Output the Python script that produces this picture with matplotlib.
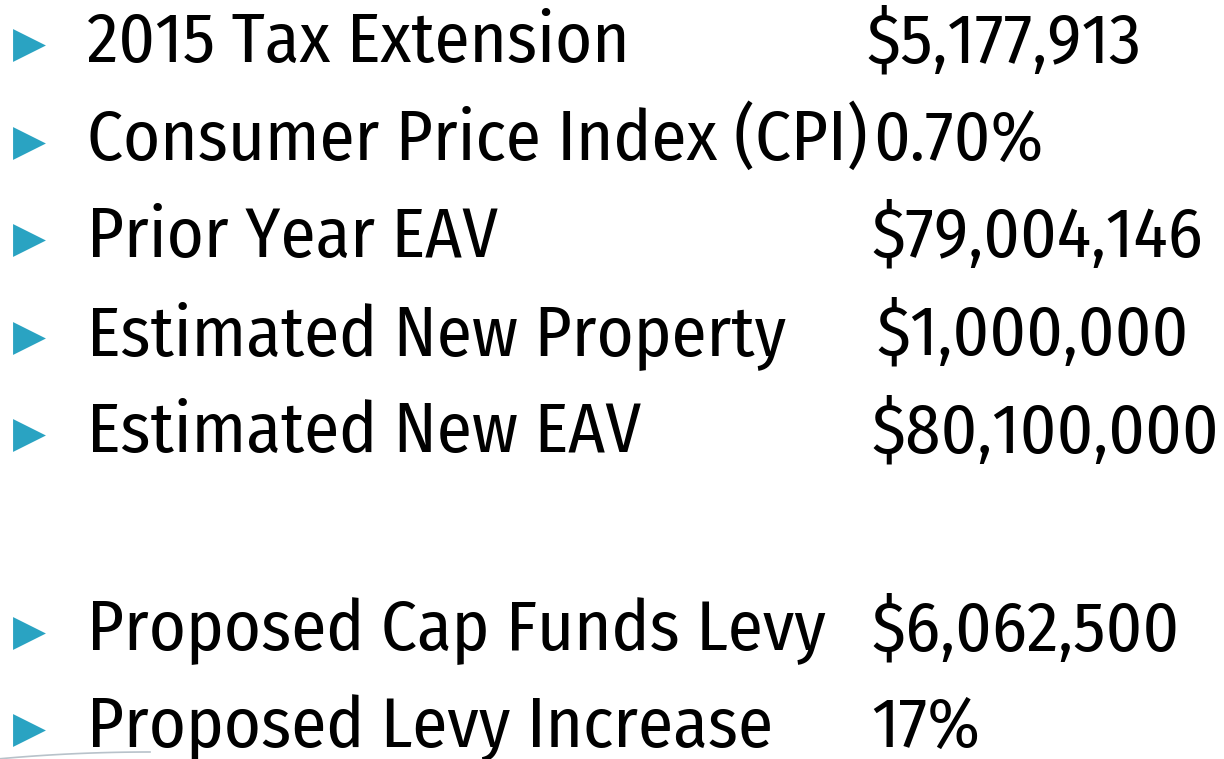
import matplotlib.pyplot as plt
import numpy as np

labels = ["2015 Tax Extension", "Consumer Price Index (CPI)", "Prior Year EAV",
          "Estimated New Property", "Estimated New EAV",
          "Proposed Cap Funds Levy", "Proposed Levy Increase"]
values = ["$5,177,913", "0.70%", "$79,004,146", "$1,000,000", "$80,100,000",
          "$6,062,500", "17%"]
# baseline of each row (pixels from top) and left edge of value text
baselines = [62, 160, 257, 355, 452, 650, 747]
value_x = [866, 873, 871, 876, 871, 871, 871]

bullet_color = "#2aa3c2"

fig = plt.figure(figsize=(12.24, 7.59), dpi=100)
ax = fig.add_axes([0, 0, 1, 1])
ax.set_xlim(0, 1224)
ax.set_ylim(759, 0)
ax.axis("off")

font = dict(family=["Fira Sans Condensed", "Roboto Condensed", "DejaVu Sans"],
            fontsize=51, color="black", va="baseline")

for lab, val, yb, vx in zip(labels, values, baselines, value_x):
    ax.text(87, yb, lab, ha="left", **font)
    ax.text(vx, yb, val, ha="left", **font)
    ax.scatter([29], [yb - 17], marker=">", s=560, color=bullet_color, linewidths=0)

# faint curved edge in lower left corner
xs = np.linspace(0, 150, 50)
ax.plot(xs, 752 + 0.0003 * (xs - 150) ** 2, color="#b8c2ca", lw=1.2)

fig.savefig("out.png", dpi=100)
